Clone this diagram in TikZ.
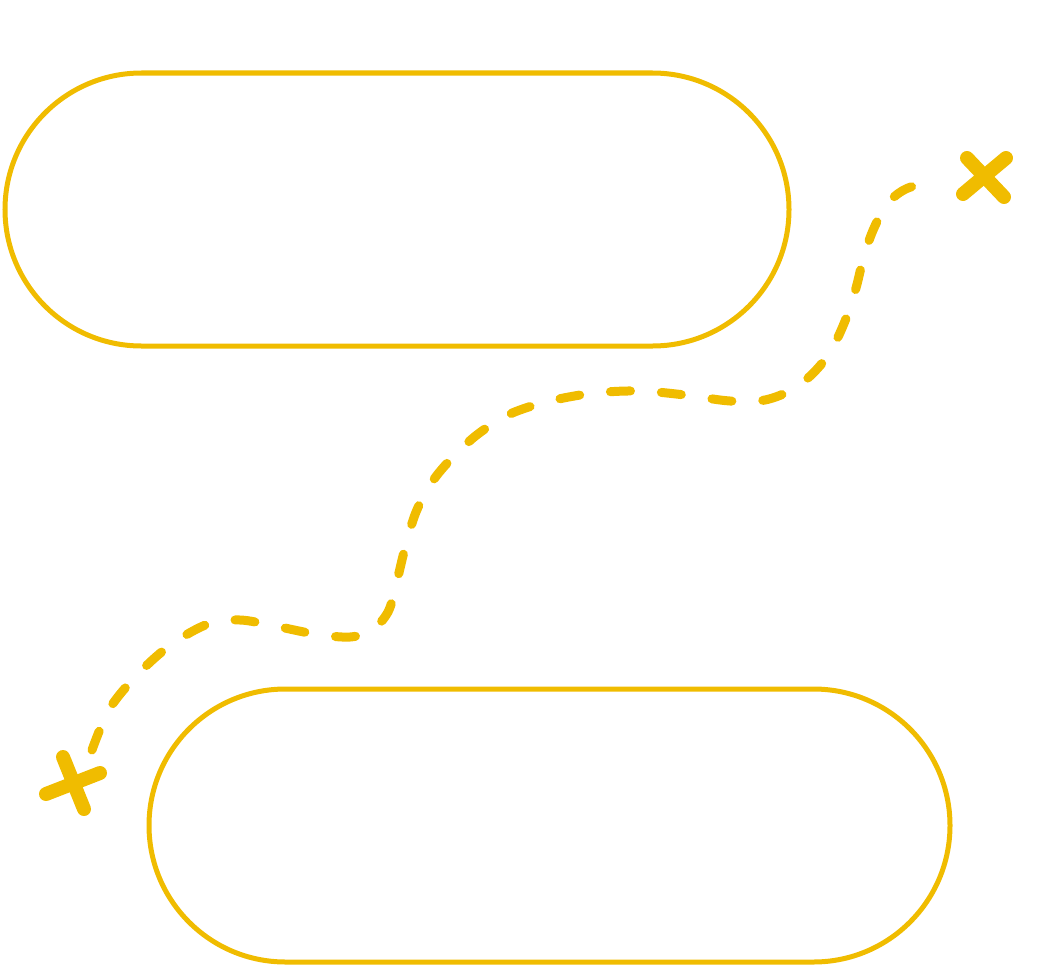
\documentclass[tikz,border=0pt]{standalone}
\definecolor{gold}{RGB}{240,188,0}
\begin{document}
\begin{tikzpicture}[x=1pt,y=-1pt,
  stadium/.style={draw=gold,line width=5pt,rounded corners=136.5pt},
  trail/.style={draw=gold,line width=9pt,line cap=round,dash pattern=on 20pt off 31pt},
  cross/.style={draw=gold,line width=14pt,line cap=round}]
\useasboundingbox (0,0) rectangle (1041,966);
\draw[stadium] (5,73) rectangle (789,346);
\draw[stadium] (149,689) rectangle (950,962);
\coordinate (s) at (92,750);
\coordinate (e) at (940,181);
\draw[trail] plot[smooth,tension=0.55] coordinates {(s) (110,708) (140,672) (172,644) (208,624) (240,620) (275,626) (315,634) (350,637) (372,630) (388,612) (396,585) (405,548) (416,512) (432,482) (452,458) (478,434) (510,414) (550,401) (595,393) (640,391) (685,395) (730,401) (765,400) (795,388) (818,368) (834,345) (847,316) (856,288) (864,256) (874,228) (888,203) (908,188) (e)};
\coordinate (a1) at (967,158);
\coordinate (a2) at (1004,197);
\coordinate (b1) at (1006,158);
\coordinate (b2) at (963,194);
\draw[cross] (a1) -- (a2);
\draw[cross] (b1) -- (b2);
\coordinate (c1) at (63,757);
\coordinate (c2) at (84,809);
\coordinate (d1) at (46,794);
\coordinate (d2) at (100,773);
\draw[cross] (c1) -- (c2);
\draw[cross] (d1) -- (d2);
\end{tikzpicture}
\end{document}
